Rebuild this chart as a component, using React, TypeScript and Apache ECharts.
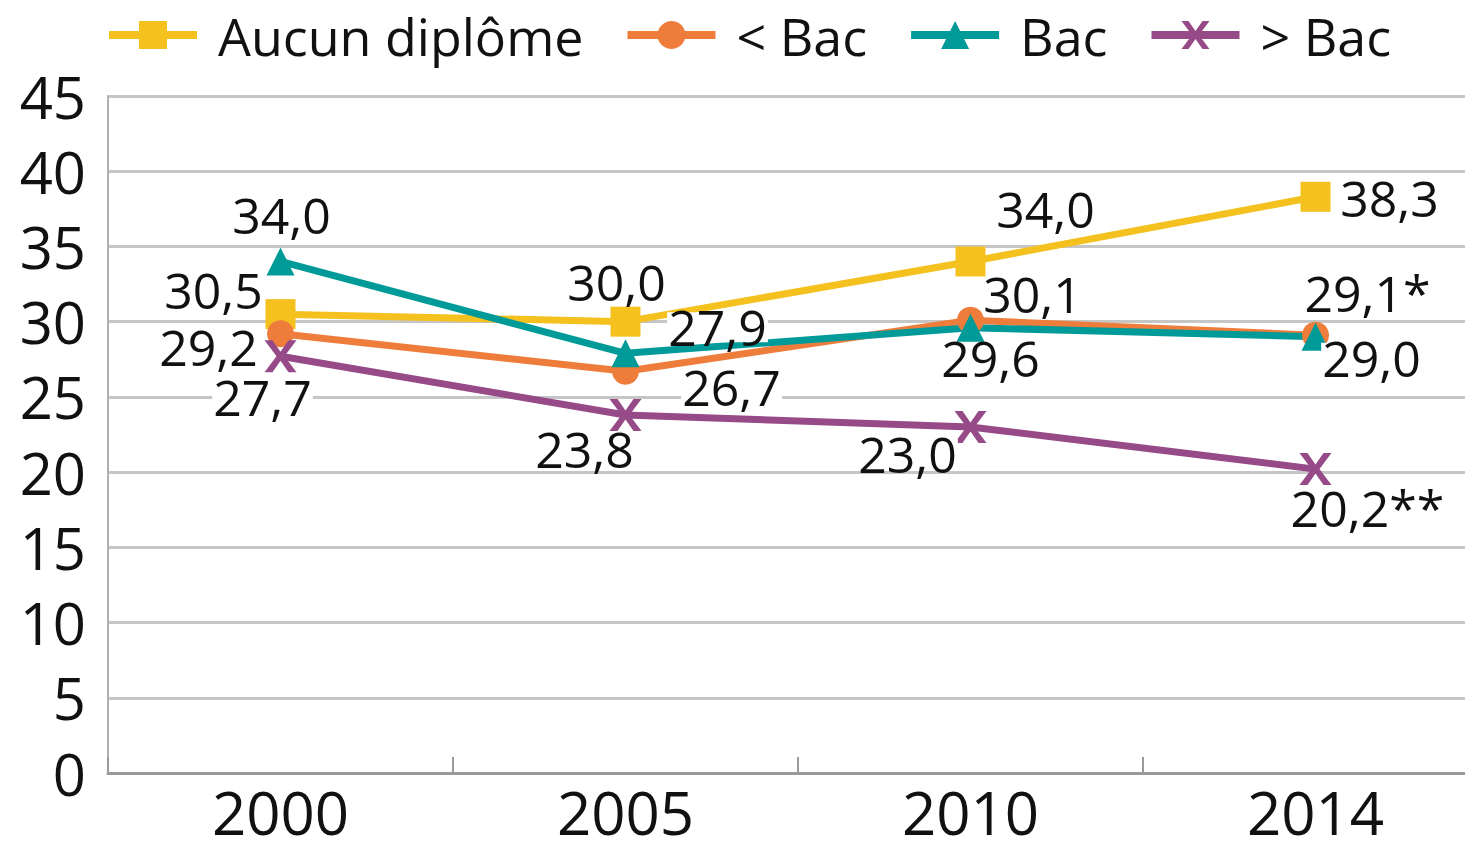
import React, { useEffect, useRef } from "react";
import * as echarts from "echarts";

const years = ["2000", "2005", "2010", "2014"];
const seriesNames = ["Aucun diplôme", "< Bac", "Bac", "> Bac"];
const aucunDiplome = [30.5, 30.0, 34.0, 38.3];
const sousBac = [29.2, 26.7, 30.1, 29.1];
const bac = [34.0, 27.9, 29.6, 29.0];
const surBac = [27.7, 23.8, 23.0, 20.2];
const aucunNotes = ["", "", "", ""];
const sousBacNotes = ["", "", "", "*"];
const bacNotes = ["", "", "", ""];
const surBacNotes = ["", "", "", "**"];
const yMin = 0;
const yMax = 45;
const yStep = 5;

// label offsets (style), per series and point
const aucunOffsets = [[-67, -24], [-9, -40], [75, -52], [74, 1]];
const sousBacOffsets = [[-72, 13], [106, 16], [62, -26], [52, -42]];
const bacOffsets = [[1, -46], [92, -26], [20, 30], [56, 21]];
const surBacOffsets = [[-18, 41], [-41, 34], [-63, 27], [52, 39]];

const colors = ["#F4C11E", "#EE7D3C", "#009A98", "#964A87"];
const FONT = "Open Sans";
const WEIGHT = 500;
const X_PATH = "path://M1,0 L3,0 L5,3.6 L7,0 L9,0 L6,5 L9,10 L7,10 L5,6.4 L3,10 L1,10 L4,5 Z";

function fmt(v: number, note: string) {
  return v.toFixed(1).replace(".", ",") + note;
}

function makeSeries(
  name: string,
  values: number[],
  notes: string[],
  offsets: number[][],
  color: string,
  symbol: string,
  symbolSize: number
) {
  return {
    type: "line",
    name,
    data: values.map((v, i) => ({
      value: v,
      label: { offset: offsets[i] },
    })),
    symbol,
    symbolSize,
    color,
    lineStyle: { color, width: 7 },
    itemStyle: { color },
    label: {
      show: true,
      position: "inside",
      fontFamily: FONT,
      fontWeight: WEIGHT,
      fontSize: 50,
      lineHeight: 30,
      color: "#111",
      backgroundColor: "#fff",
      padding: [0, 1],
      formatter: (p: any) => fmt(p.value, notes[p.dataIndex]),
    },
    emphasis: { disabled: true },
  };
}

export default function App() {
  const ref = useRef<HTMLDivElement>(null);
  useEffect(() => {
    if (!ref.current) return;
    const chart = echarts.init(ref.current, null, { renderer: "svg" });
    chart.setOption({
      animation: false,
      backgroundColor: "#fff",
      legend: {
        left: 105,
        top: 5,
        padding: 0,
        itemWidth: 88,
        itemHeight: 35,
        itemGap: 40,
        data: seriesNames,
        lineStyle: { width: 8 },
        textStyle: {
          fontFamily: FONT,
          fontWeight: WEIGHT,
          fontSize: 52,
          lineHeight: 60,
          color: "#111",
          padding: [0, 0, 0, 16],
        },
      },
      grid: { left: 108, right: 0, top: 96, bottom: 63 },
      xAxis: {
        type: "category",
        data: years,
        boundaryGap: true,
        axisLine: { lineStyle: { color: "#9a9a9a", width: 3 } },
        axisTick: { show: true, inside: true, length: 16, lineStyle: { color: "#9a9a9a", width: 2 } },
        axisLabel: { fontFamily: FONT, fontWeight: WEIGHT, fontSize: 60, lineHeight: 50, color: "#111", margin: 14 },
        splitLine: { show: false },
      },
      yAxis: {
        type: "value",
        min: yMin,
        max: yMax,
        interval: yStep,
        axisLine: { show: true, lineStyle: { color: "#b0b0b0", width: 2 } },
        axisTick: { show: false },
        axisLabel: { fontFamily: FONT, fontWeight: WEIGHT, fontSize: 58, lineHeight: 50, color: "#111", margin: 22 },
        splitLine: { lineStyle: { color: "#c6c6c6", width: 3 } },
      },
      series: [
        makeSeries(seriesNames[0], aucunDiplome, aucunNotes, aucunOffsets, colors[0], "rect", 30),
        makeSeries(seriesNames[1], sousBac, sousBacNotes, sousBacOffsets, colors[1], "circle", 27),
        makeSeries(seriesNames[2], bac, bacNotes, bacOffsets, colors[2], "triangle", 28),
        makeSeries(seriesNames[3], surBac, surBacNotes, surBacOffsets, colors[3], X_PATH, 32),
      ],
    });
    return () => chart.dispose();
  }, []);
  return (
    <div
      style={{ position: "absolute", left: 0, top: 0, width: 1465, height: 842, overflow: "hidden" }}
    >
      <div ref={ref} style={{ width: 1488, height: 842 }} />
    </div>
  );
}
